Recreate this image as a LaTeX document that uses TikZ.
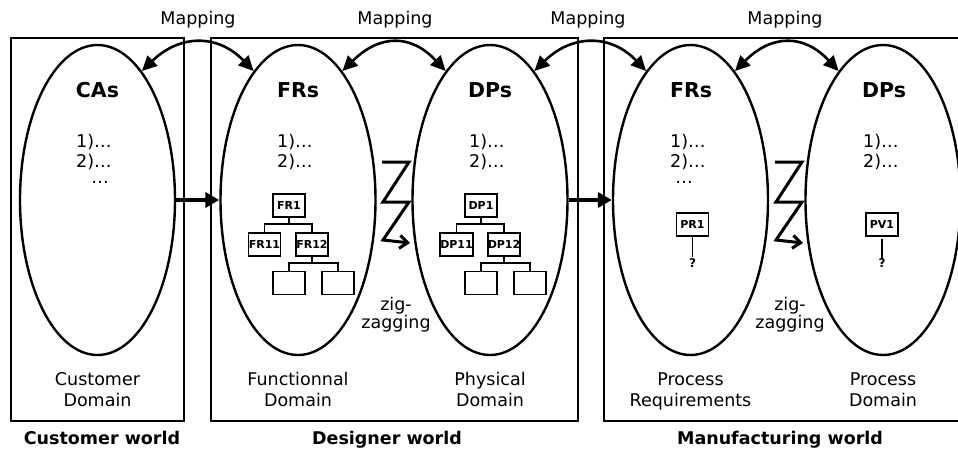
\documentclass[tikz,border=0pt]{standalone}
\usepackage{fontspec}
\setmainfont{DejaVu Sans}
\usetikzlibrary{shapes.geometric,arrows.meta}
\begin{document}
\begin{tikzpicture}[x=1pt,y=-1pt,
  world/.style={draw, line width=2pt, inner sep=0pt},
  dom/.style={draw, ellipse, line width=2.4pt, inner sep=0pt, minimum width=155pt, minimum height=310pt},
  head/.style={font=\fontsize{20.5}{24}\selectfont\bfseries, inner sep=0pt},
  txt/.style={font=\fontsize{17.5}{20}\selectfont, inner sep=0pt},
  lbl/.style={font=\fontsize{17.5}{22}\selectfont, inner sep=0pt, anchor=base},
  zzlbl/.style={font=\fontsize{17.5}{18}\selectfont, inner sep=0pt, align=center},
  wlbl/.style={font=\fontsize{17.5}{20}\selectfont\bfseries, inner sep=0pt, anchor=base},
  tbox/.style={draw, line width=1.8pt, minimum width=32pt, minimum height=23pt, inner sep=0pt, font=\fontsize{11}{13}\selectfont\bfseries},
  qlbl/.style={font=\fontsize{12}{14}\selectfont\bfseries, inner sep=0pt},
  tline/.style={line width=1.8pt},
  maparrow/.style={line width=2.6pt, {Triangle[length=15pt,width=14pt]}-{Triangle[length=15pt,width=14pt]}},
  bigarrow/.style={line width=4pt, -{Triangle[length=14pt,width=15pt]}},
  zigzag/.style={line width=3pt, line join=miter, -{Straight Barb[length=8pt,width=13pt]}},
]
\clip (0,0) rectangle (958,450);

% world boxes
\node[world, minimum width=173pt, minimum height=383pt] (cw) at (97.5,229.5) {};
\node[world, minimum width=367pt, minimum height=383pt] (dw) at (394.5,229.5) {};
\node[world, minimum width=400pt, minimum height=383pt] (mw) at (804,229.5) {};

% domains
\node[dom] (ca) at (97.5,200) {};
\node[dom] (fr) at (298,200) {};
\node[dom] (dp) at (490,200) {};
\node[dom] (frm) at (690.5,200) {};
\node[dom] (dpm) at (883,200) {};

% headings
\node[head] (caH) at (97.5,90) {CAs};
\node[head] (frH) at (298,90) {FRs};
\node[head] (dpH) at (490,90) {DPs};
\node[head] (frmH) at (691,90) {FRs};
\node[head] (dpmH) at (884,90) {DPs};

% lists
\node[txt, anchor=west] (ca1) at (76,142) {1)…};
\node[txt, anchor=west] (ca2) at (76,162) {2)…};
\node[txt] (ca3) at (100,182) {…};
\node[txt, anchor=west] (fr1t) at (277,142) {1)…};
\node[txt, anchor=west] (fr2t) at (277,162) {2)…};
\node[txt, anchor=west] (dp1t) at (469,142) {1)…};
\node[txt, anchor=west] (dp2t) at (469,162) {2)…};
\node[txt, anchor=west] (frm1t) at (670,142) {1)…};
\node[txt, anchor=west] (frm2t) at (670,162) {2)…};
\node[txt] (frm3t) at (684,182) {…};
\node[txt, anchor=west] (dpm1t) at (863,142) {1)…};
\node[txt, anchor=west] (dpm2t) at (863,162) {2)…};

% FR tree
\node[tbox] (FRa) at (289,205.5) {FR1};
\node[tbox] (FRb) at (264.5,244.5) {FR11};
\node[tbox] (FRc) at (312,244.5) {FR12};
\node[tbox] (FRd) at (289,283) {};
\node[tbox] (FRe) at (338,283) {};
\draw[tline] (FRa.south) -- ++(0,6) -| (FRb.north);
\draw[tline] (FRa.south) ++(0,6) -| (FRc.north);
\draw[tline] (FRc.south) -- ++(0,6) -| (FRd.north);
\draw[tline] (FRc.south) ++(0,6) -| (FRe.north);

% DP tree
\node[tbox] (DPa) at (481,205.5) {DP1};
\node[tbox] (DPb) at (456.5,244.5) {DP11};
\node[tbox] (DPc) at (504,244.5) {DP12};
\node[tbox] (DPd) at (481,283) {};
\node[tbox] (DPe) at (530,283) {};
\draw[tline] (DPa.south) -- ++(0,6) -| (DPb.north);
\draw[tline] (DPa.south) ++(0,6) -| (DPc.north);
\draw[tline] (DPc.south) -- ++(0,6) -| (DPd.north);
\draw[tline] (DPc.south) ++(0,6) -| (DPe.north);

% process boxes
\node[tbox] (PR) at (692.5,224.5) {PR1};
\node[qlbl] (PRq) at (692.5,263) {?};
\draw[tline] (PR.south) -- ([yshift=1pt]PRq.north);
\node[tbox] (PV) at (882,224.5) {PV1};
\node[qlbl] (PVq) at (882,263) {?};
\draw[line width=1.5pt] (PV.south) ++(0,2) -- ([yshift=-1pt]PVq.north);

% zig-zags
\draw[zigzag] (382,162) -- (409,162) -- (383,202) -- (409,202) -- (383,240) -- (410,243);
\draw[zigzag] (775,162) -- (802,162) -- (776,202) -- (802,202) -- (776,240) -- (803,243);
\node[zzlbl] (zz1) at (396,315) {zig-\\zagging};
\node[zzlbl] (zz2) at (790,315) {zig-\\zagging};

% main arrows
\draw[bigarrow] (ca.east) -- (fr.west);
\draw[bigarrow] (dp.east) -- (frm.west);

% mapping arrows
\draw[maparrow] (ca.71) .. controls (180,34) and (218,34) .. (fr.109);
\draw[maparrow] (fr.71) .. controls (380,34) and (411,34) .. (dp.109);
\draw[maparrow] (dp.71) .. controls (572,34) and (611,34) .. (frm.109);
\draw[maparrow] (frm.71) .. controls (772,34) and (804,34) .. (dpm.109);
\node[txt] (m1) at (198,20) {Mapping};
\node[txt] (m2) at (395,20) {Mapping};
\node[txt] (m3) at (588,20) {Mapping};
\node[txt] (m4) at (785,20) {Mapping};

% domain labels
\node[lbl] (caL) at (97.5,385) {Customer};
\node[lbl] (caL2) at (97.5,406) {Domain};
\node[lbl] (frL) at (298,385) {Functionnal};
\node[lbl] (frL2) at (298,406) {Domain};
\node[lbl] (dpL) at (490,385) {Physical};
\node[lbl] (dpL2) at (490,406) {Domain};
\node[lbl] (frmL) at (690.5,385) {Process};
\node[lbl] (frmL2) at (690.5,406) {Requirements};
\node[lbl] (dpmL) at (883,385) {Process};
\node[lbl] (dpmL2) at (883,406) {Domain};

% world labels
\node[wlbl] (cwL) at (102,444) {Customer world};
\node[wlbl] (dwL) at (387,444) {Designer world};
\node[wlbl] (mwL) at (780,444) {Manufacturing world};
\end{tikzpicture}
\end{document}
